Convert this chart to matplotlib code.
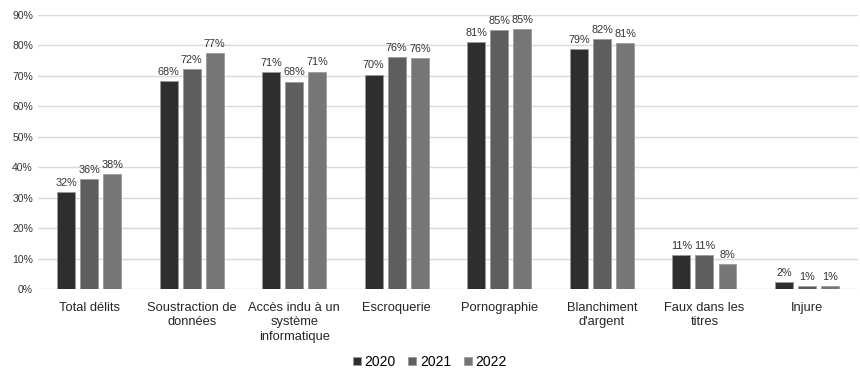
import matplotlib.pyplot as plt
import numpy as np

plt.rcParams['font.family'] = ['Liberation Sans', 'DejaVu Sans']

categories = ['Total délits', 'Soustraction de\ndonnées', 'Accès indu à un\nsystème\ninformatique',
              'Escroquerie', 'Pornographie', 'Blanchiment\nd\'argent', 'Faux dans les\ntitres', 'Injure']
years = ['2020', '2021', '2022']
v2020 = [31.8, 68.2, 71.1, 70.4, 81.0, 78.9, 11.2, 2.2]
v2021 = [36.0, 72.1, 68.1, 76.1, 85.0, 82.0, 11.2, 1.1]
v2022 = [37.8, 77.4, 71.4, 75.7, 85.3, 80.7, 8.3, 1.1]
labels2020 = ['32%', '68%', '71%', '70%', '81%', '79%', '11%', '2%']
labels2021 = ['36%', '72%', '68%', '76%', '85%', '82%', '11%', '1%']
labels2022 = ['38%', '77%', '71%', '76%', '85%', '81%', '8%', '1%']
colors = ['#2e2e2e', '#5e5e5e', '#767676']

fig = plt.figure(figsize=(8.6, 3.72), dpi=100)
ax = fig.add_axes([0.044, 0.223, 0.954, 0.737])

x = np.arange(len(categories))
w = 0.175
step = 0.225
series = [v2020, v2021, v2022]
labels = [labels2020, labels2021, labels2022]
for i, (vals, lab) in enumerate(zip(series, labels)):
    bars = ax.bar(x + (i - 1) * step, vals, w, color=colors[i], edgecolor='#9a9a9a',
                  linewidth=0.6, label=years[i], zorder=3)
    ax.bar_label(bars, labels=lab, padding=3, fontsize=7.8, color='#333333')

ax.set_xlim(-0.5, len(categories) - 0.5)
ax.set_ylim(0, 90)
ax.set_yticks(np.arange(0, 91, 10))
ax.set_yticklabels([f'{t}%' for t in range(0, 91, 10)], fontsize=7.5, color='#333333')
ax.set_xticks(x)
ax.set_xticklabels(categories, fontsize=9.3, color='#262626', linespacing=1.3)
ax.tick_params(axis='both', length=0)
ax.tick_params(axis='x', pad=9)
ax.grid(axis='y', color='#d9d9d9', linewidth=1, zorder=0)
for s in ax.spines.values():
    s.set_visible(False)

fig.legend(loc='lower center', bbox_to_anchor=(0.5, -0.025), ncol=3, frameon=False, fontsize=10,
           handlelength=0.55, handleheight=0.55, handletextpad=0.3, columnspacing=0.9)

fig.savefig('out.png', dpi=100)
